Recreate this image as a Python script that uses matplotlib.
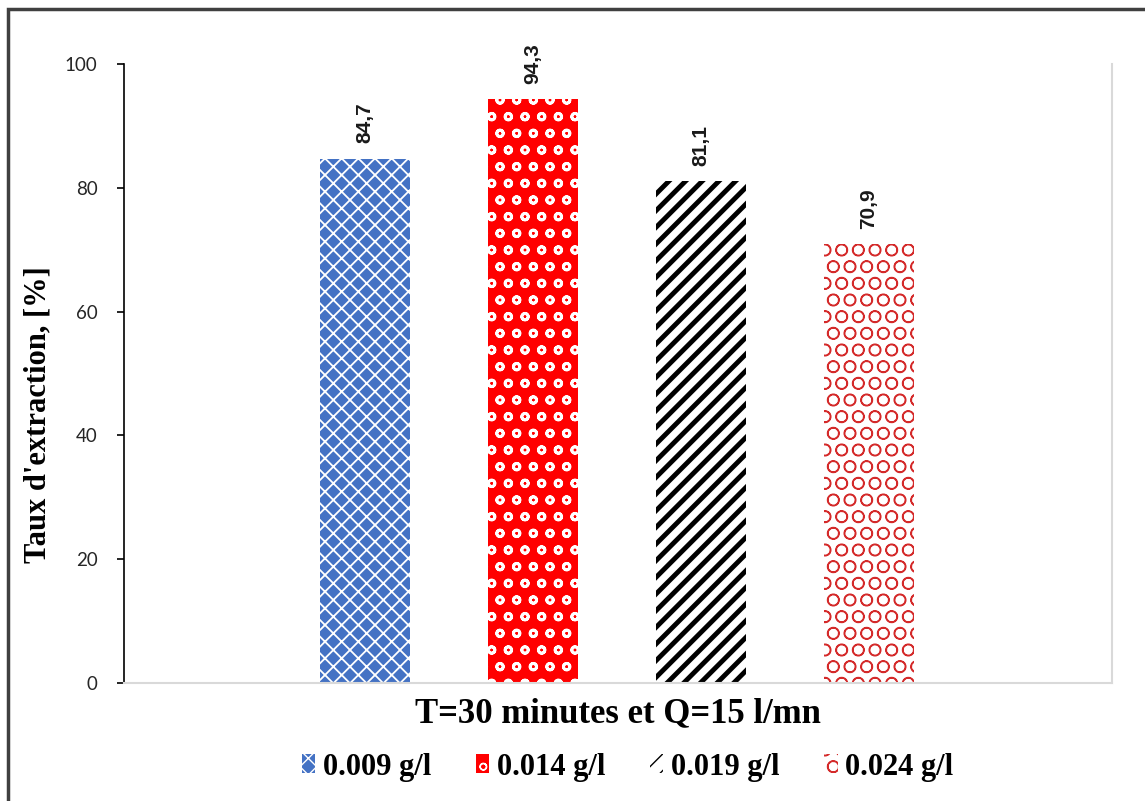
import matplotlib.pyplot as plt
from matplotlib.patches import Rectangle

concentrations = ['0.009 g/l', '0.014 g/l', '0.019 g/l', '0.024 g/l']
rates = [84.7, 94.3, 81.1, 70.9]
value_labels = ['84,7', '94,3', '81,1', '70,9']
yticks = [0, 20, 40, 60, 80, 100]

# face, hatch colour, hatch, hatch linewidth
styles = [
    ('#4472C4', 'white', 'xx', 1.3),
    ('#FF0000', 'white', 'o', 2.0),
    ('white', 'black', '//', 3.5),
    ('white', '#D42A2A', 'O', 1.0),
]

fig = plt.figure(figsize=(11.45, 8.01), dpi=100)
ax = fig.add_axes([124/1145, 1-683/801, (1112-124)/1145, (683-64)/801])

serif = 'Liberation Serif'
for i, (val, lab, name) in enumerate(zip(rates, value_labels, concentrations)):
    face, hcol, hatch, hlw = styles[i]
    b = ax.bar(i, val, width=0.535, color=face, edgecolor=hcol, hatch=hatch,
               linewidth=0, label=name)[0]
    if hasattr(b, 'set_hatch_linewidth'):
        b.set_hatch_linewidth(hlw)
    ax.text(i, val + 2.5, lab, rotation=90, ha='center', va='bottom',
            fontsize=15, fontweight='bold', family='Liberation Sans', color='#1a1a1a')

ax.set_xlim(-1.434, 4.446)
ax.set_ylim(0, 100)
ax.set_yticks(yticks)
ax.set_xticks([])
ax.tick_params(axis='y', labelsize=13.5, colors='black', length=5, width=1.2, pad=14)
for t in ax.get_yticklabels():
    t.set_family('Lato')
    t.set_color('#262626')
ax.spines['left'].set_color('black')
ax.spines['left'].set_linewidth(1.2)
ax.spines['top'].set_visible(False)
for s in ['right', 'bottom']:
    ax.spines[s].set_color('#D9D9D9')
    ax.spines[s].set_linewidth(1.5)

ax.set_ylabel("Taux d'extraction, [%]", family=serif, fontweight='bold',
              fontsize=22, labelpad=9, y=0.433)
ax.set_xlabel('T=30 minutes et Q=15 l/mn', family=serif, fontweight='bold',
              fontsize=25, labelpad=10)

leg = fig.legend(loc='center', bbox_to_anchor=(0.548, 1-767/801), ncol=4,
                 frameon=False, prop={'family': serif, 'weight': 'bold', 'size': 22},
                 handlelength=0.45, handleheight=0.55, handletextpad=0.25,
                 columnspacing=1.45)

fig.add_artist(Rectangle((8/1145, -0.1), 1.2, 1 - 9/801 + 0.1,
                         transform=fig.transFigure, fill=False,
                         edgecolor='#404040', linewidth=2.5))

fig.savefig('out.png', dpi=100)
